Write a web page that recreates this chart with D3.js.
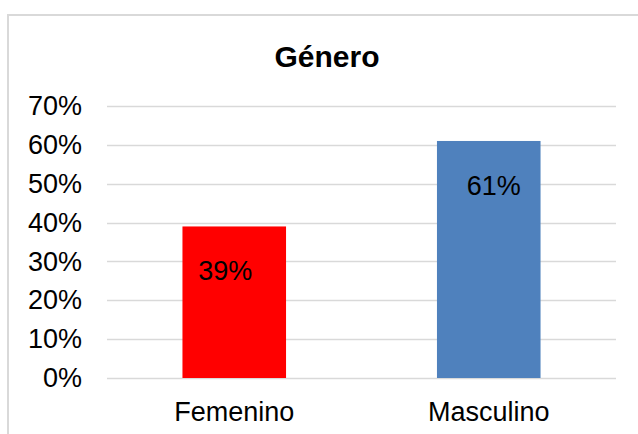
<!DOCTYPE html>
<html>
<head>
<meta charset="utf-8">
<script src="https://cdn.jsdelivr.net/npm/d3@7"></script>
<style>
  body { margin: 0; background: #fff; }
  text { font-family: "Liberation Sans", Arial, sans-serif; }
</style>
</head>
<body>
<div id="chart"></div>
<script>
const width = 638;
const height = 434;
const margin = { top: 106, right: 22, bottom: 56, left: 107 };

// data
const categories = ["Femenino", "Masculino"];
const values = [0.39, 0.61];
const barColors = ["#ff0000", "#4f81bd"];
const tickValues = [0, 0.1, 0.2, 0.3, 0.4, 0.5, 0.6, 0.7];
const title = "Género";

// label nudges, as in the original export
const labelDx = [-9, 5];

const svg = d3.select("#chart").append("svg")
    .attr("width", width)
    .attr("height", height);

// chart area border (runs off the right and bottom edges)
svg.append("rect")
    .attr("x", 8)
    .attr("y", 15)
    .attr("width", 660)
    .attr("height", 460)
    .attr("fill", "#fff")
    .attr("stroke", "#d9d9d9")
    .attr("stroke-width", 2);

const x = d3.scaleBand()
    .domain(categories)
    .range([margin.left, width - margin.right])
    .paddingInner(0.593)
    .paddingOuter(0.2965);

const y = d3.scaleLinear()
    .domain([0, 0.7])
    .range([height - margin.bottom, margin.top]);

// gridlines
svg.append("g")
    .selectAll("line")
    .data(tickValues)
    .join("line")
    .attr("x1", margin.left)
    .attr("x2", width - margin.right)
    .attr("y1", d => Math.round(y(d)) + 0.5)
    .attr("y2", d => Math.round(y(d)) + 0.5)
    .attr("stroke", "#d9d9d9")
    .attr("stroke-width", 1.5);

// y axis labels
const yAxis = d3.axisLeft(y)
    .tickValues(tickValues)
    .tickFormat(d3.format(".0%"))
    .tickSize(0)
    .tickPadding(25);

svg.append("g")
    .attr("transform", `translate(${margin.left},0)`)
    .call(yAxis)
    .call(g => g.select(".domain").remove())
    .call(g => g.selectAll("text")
        .attr("font-family", "'Liberation Sans', Arial, sans-serif")
        .attr("font-size", 27)
        .attr("fill", "#000"));

// bars
svg.append("g")
    .selectAll("rect")
    .data(values)
    .join("rect")
    .attr("x", (d, i) => x(categories[i]))
    .attr("y", d => y(d))
    .attr("width", x.bandwidth())
    .attr("height", d => y(0) - y(d))
    .attr("fill", (d, i) => barColors[i]);

// value labels
svg.append("g")
    .selectAll("text")
    .data(values)
    .join("text")
    .attr("x", (d, i) => x(categories[i]) + x.bandwidth() / 2 + labelDx[i])
    .attr("y", d => y(d) + 54)
    .attr("text-anchor", "middle")
    .attr("font-size", 27)
    .attr("fill", "#000")
    .text(d => d3.format(".0%")(d));

// x axis labels
const xAxis = d3.axisBottom(x).tickSize(0).tickPadding(24);
svg.append("g")
    .attr("transform", `translate(0,${y(0)})`)
    .call(xAxis)
    .call(g => g.select(".domain").remove())
    .call(g => g.selectAll("text")
        .attr("font-family", "'Liberation Sans', Arial, sans-serif")
        .attr("font-size", 27)
        .attr("fill", "#000"));

// title
svg.append("text")
    .attr("x", 327)
    .attr("y", 67)
    .attr("text-anchor", "middle")
    .attr("font-size", 30)
    .attr("font-weight", "bold")
    .attr("fill", "#000")
    .text(title);
</script>
</body>
</html>
